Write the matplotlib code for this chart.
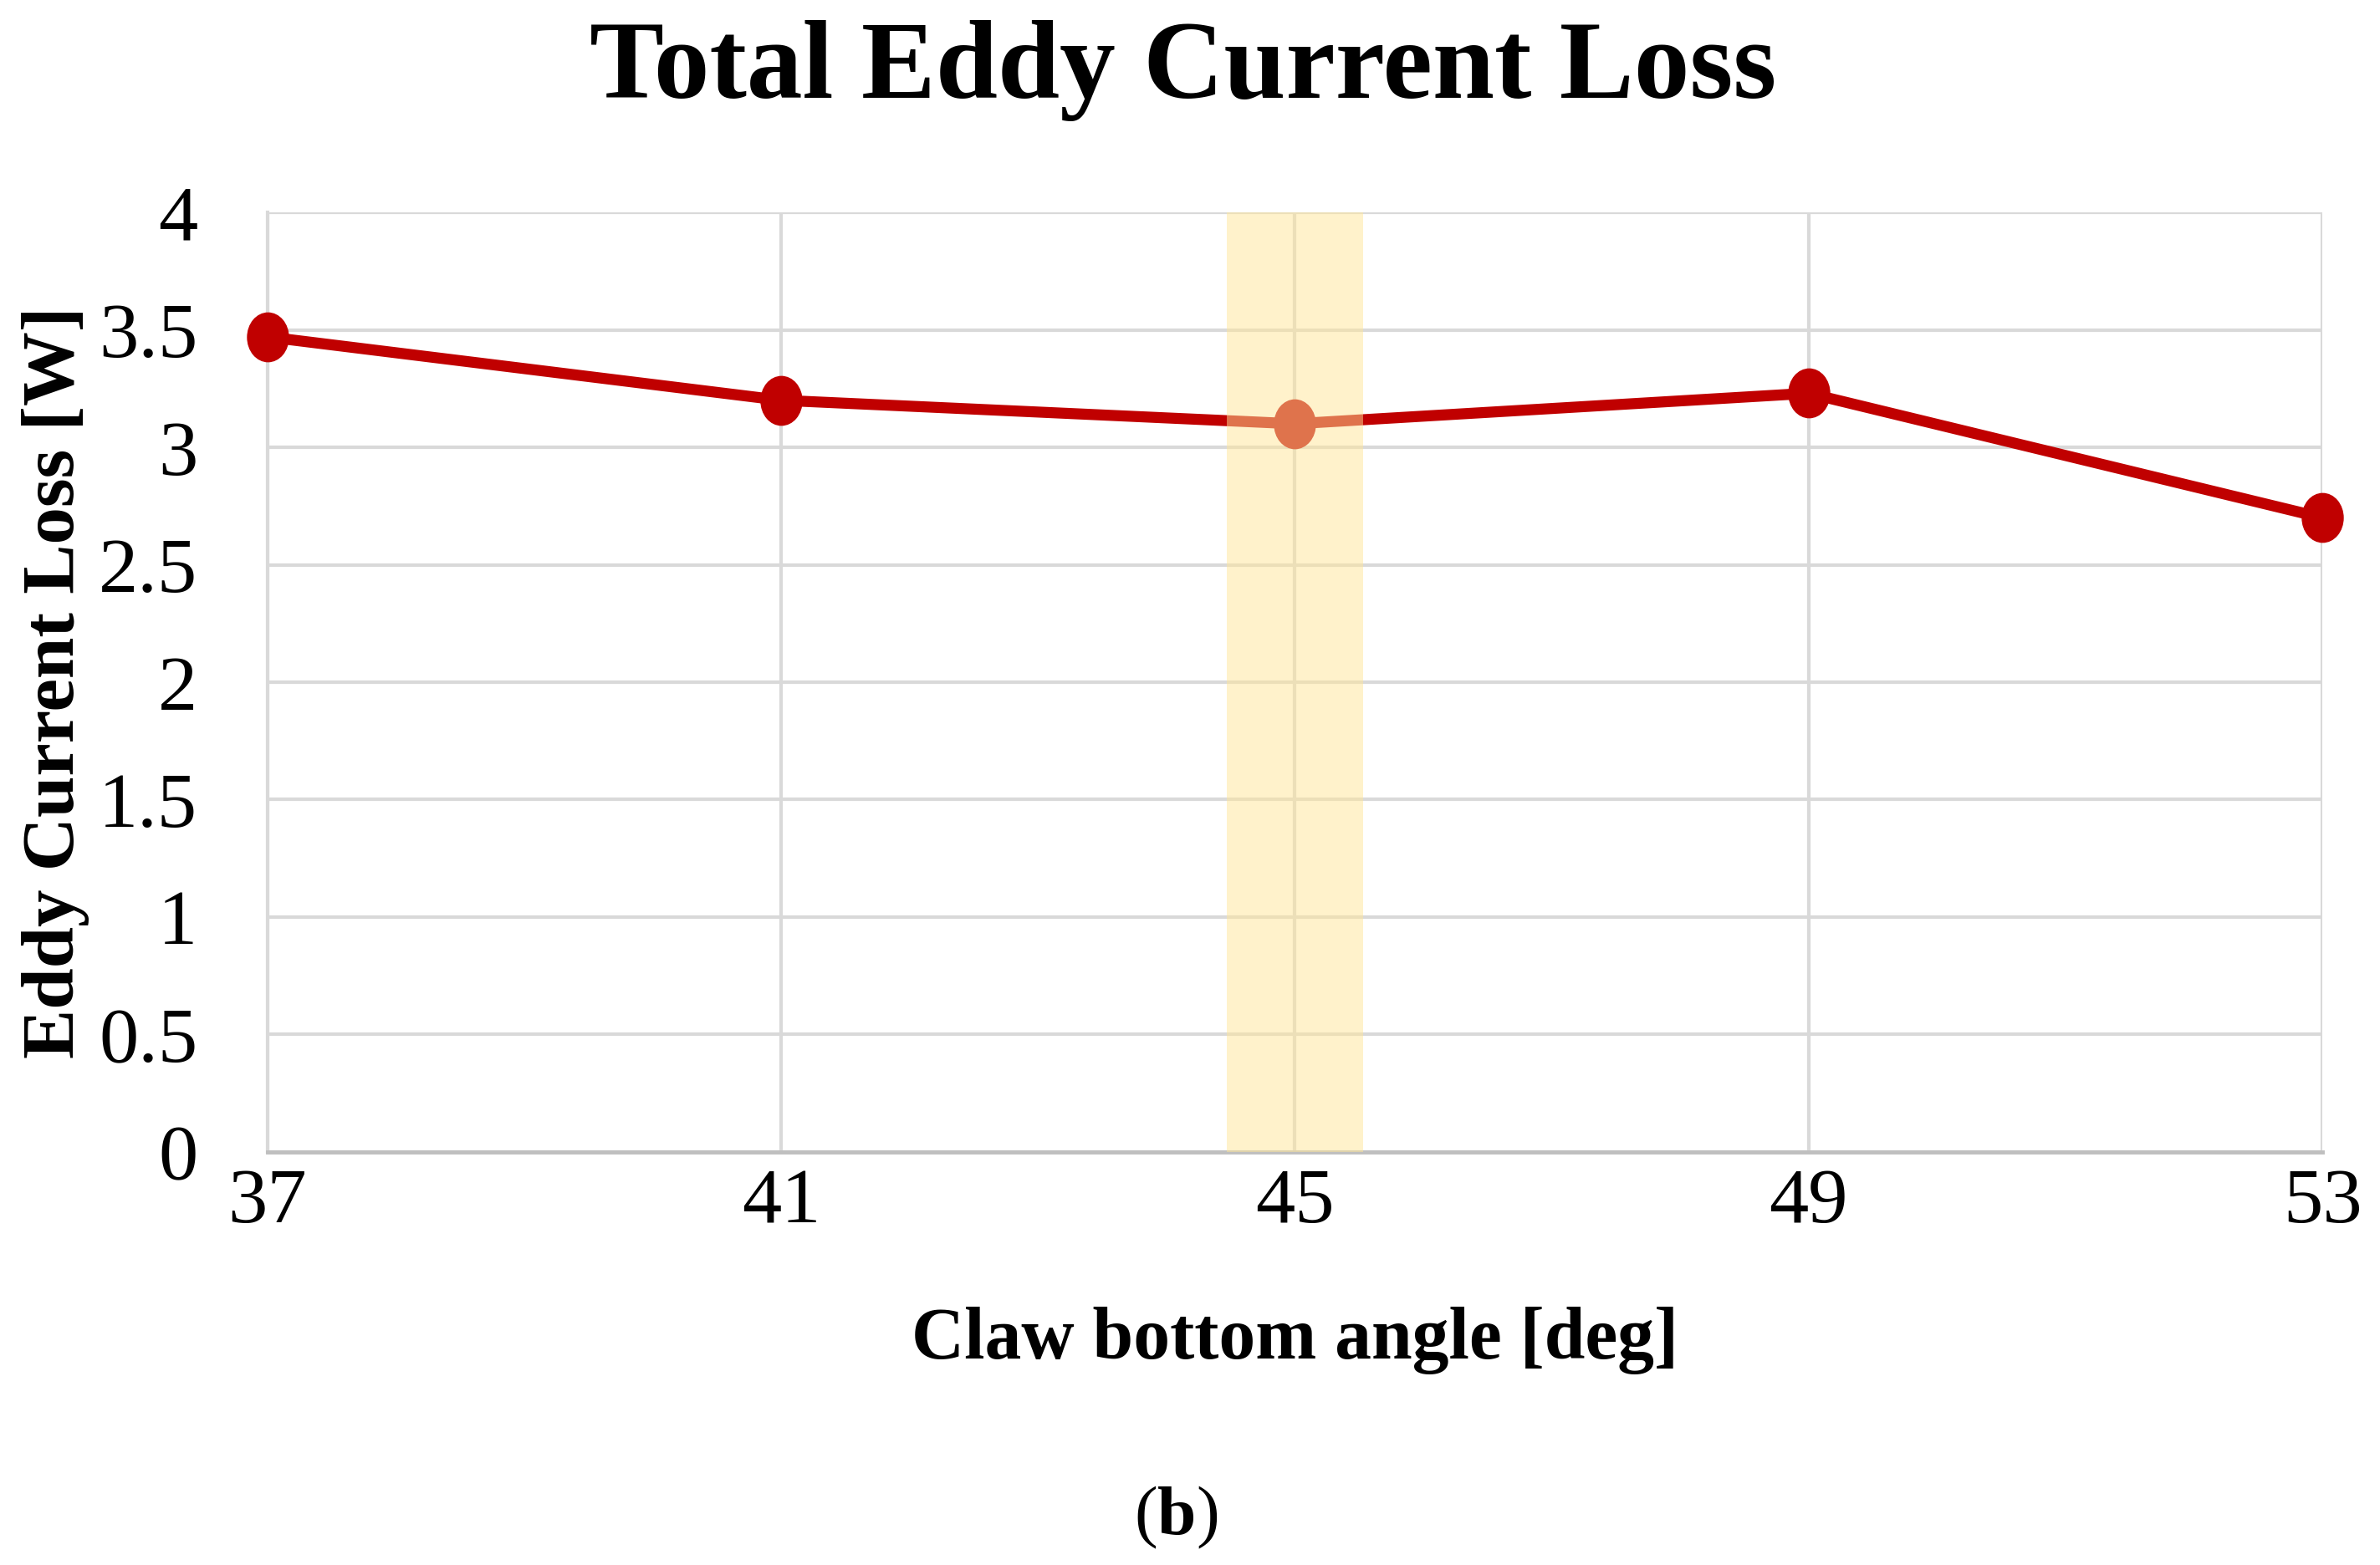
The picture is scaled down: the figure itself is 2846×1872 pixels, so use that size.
import numpy as np
import matplotlib
matplotlib.use("Agg")
import matplotlib.pyplot as plt
from matplotlib.path import Path

# ── Data ──────────────────────────────────────────────────────────
angles = [37, 41, 45, 49, 53]
eddy_loss = [3.47, 3.20, 3.10, 3.23, 2.70]
y_ticks = [0, 0.5, 1, 1.5, 2, 2.5, 3, 3.5, 4]
y_tick_labels = ["0", "0.5", "1", "1.5", "2", "2.5", "3", "3.5", "4"]
highlight = (44.47, 45.53)

serif = ["Liberation Serif", "DejaVu Serif"]
plt.rcParams["font.family"] = serif

fig = plt.figure(figsize=(28.46, 18.72), dpi=100)
ax = fig.add_axes([0.1123, 0.2639, 0.8635, 0.6004])

# slightly tall ellipse marker, like the reference
circ = Path.unit_circle()
ell = Path(circ.vertices * np.array([0.84, 1.0]), circ.codes)

ax.plot(angles, eddy_loss, color="#C00000", linewidth=9.5, marker=ell,
        markersize=42, zorder=3, clip_on=False)

# highlighted band (drawn over the line, semi transparent)
ax.axvspan(highlight[0], highlight[1], color="#FFE699", alpha=0.5,
           linewidth=0, zorder=4)

ax.set_xlim(37, 53)
ax.set_ylim(0, 4)
ax.set_xticks(angles)
ax.set_xticklabels([str(a) for a in angles])
ax.set_yticks(y_ticks)
ax.set_yticklabels(y_tick_labels)

ax.grid(True, color="#d9d9d9", linewidth=3, zorder=1)
ax.set_axisbelow(True)
for s in ["top", "right"]:
    ax.spines[s].set_visible(False)
ax.spines["left"].set_color("#d9d9d9")
ax.spines["left"].set_linewidth(3)
ax.spines["bottom"].set_color("#bfbfbf")
ax.spines["bottom"].set_linewidth(3.5)

ax.tick_params(axis="both", length=0, labelsize=68)
ax.tick_params(axis="y", pad=60)
ax.tick_params(axis="x", pad=14)

ax.set_xlabel("Claw bottom angle [deg]", fontsize=63, fontweight="bold",
              labelpad=58)
ax.set_ylabel("Eddy Current Loss [W]", fontsize=64, fontweight="bold",
              labelpad=8)

fig.text(0.497, 0.955, "Total Eddy Current Loss", ha="center", va="center",
         fontsize=96, fontweight="bold")

# caption "(b)" with bold letter
fig.text(0.4865, 0.03, "(", ha="right", va="center", fontsize=60)
fig.text(0.4945, 0.03, "b", ha="center", va="center", fontsize=60,
         fontweight="bold")
fig.text(0.5025, 0.03, ")", ha="left", va="center", fontsize=60)

fig.savefig("out.png", dpi=100, facecolor="white")
